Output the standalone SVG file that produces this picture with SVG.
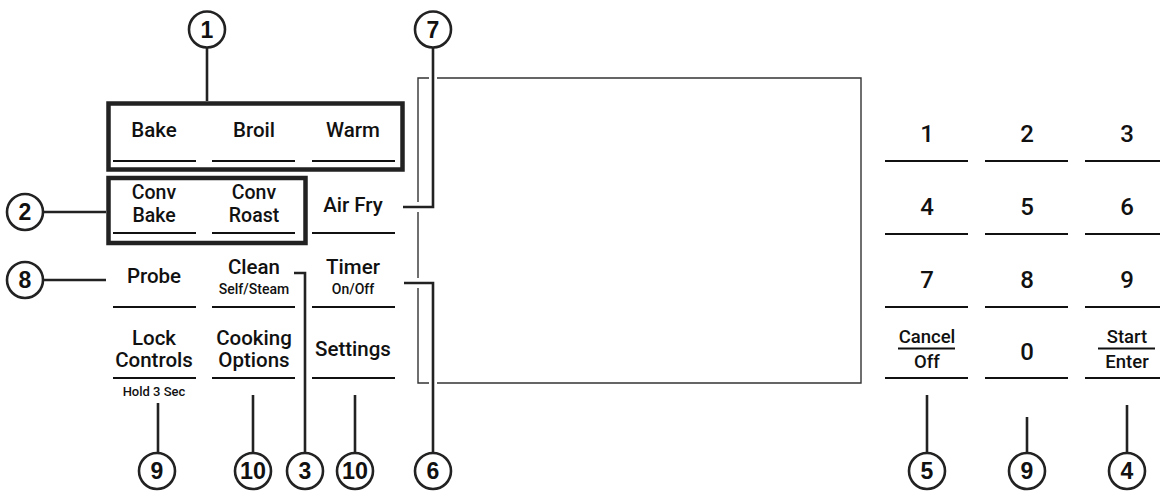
<svg xmlns="http://www.w3.org/2000/svg" width="1160" height="491" viewBox="0 0 1160 491">
<style>
.lbl{font-family:Roboto,"Liberation Sans",sans-serif;font-weight:500;font-size:20.5px;fill:#111;text-anchor:middle}
.lbl2{font-family:Roboto,"Liberation Sans",sans-serif;font-weight:500;font-size:19.5px;fill:#111;text-anchor:middle}
.sm{font-family:Roboto,"Liberation Sans",sans-serif;font-weight:500;font-size:14px;fill:#111;text-anchor:middle}
.dig{font-family:Roboto,"Liberation Sans",sans-serif;font-weight:500;font-size:24px;fill:#111;text-anchor:middle}
.key{font-family:Roboto,"Liberation Sans",sans-serif;font-weight:500;font-size:18.5px;fill:#111;text-anchor:middle}
.num{font-family:"Liberation Sans",Arial,sans-serif;font-weight:bold;font-size:23px;fill:#111;text-anchor:middle}
.ul{stroke:#111;stroke-width:2.2;fill:none}
.box{stroke:#222;stroke-width:4.5;fill:none}
.lead{stroke:#222;stroke-width:2.6;fill:none}
.thin{stroke:#333;stroke-width:1.4;fill:none}
.circ{stroke:#222;stroke-width:2.6;fill:#fff}
</style>

<g id="display">
<path class="thin" d="M429,78 H418 V202 M418,212 V278 M418,288 V383 H429 M437,383 H861 V78 H437"/>
</g>

<g id="group1-box"><rect class="box" x="108.5" y="103.5" width="294" height="66"/></g>
<g id="group2-box"><rect class="box" x="108.5" y="178" width="197" height="65"/></g>

<g id="btn-bake"><text class="lbl" x="154" y="137">Bake</text><line class="ul" x1="113" y1="161" x2="196" y2="161"/></g>
<g id="btn-broil"><text class="lbl" x="254" y="137">Broil</text><line class="ul" x1="212" y1="161" x2="295" y2="161"/></g>
<g id="btn-warm"><text class="lbl" x="353" y="137">Warm</text><line class="ul" x1="312" y1="161" x2="395" y2="161"/></g>

<g id="btn-convbake"><text class="lbl2" x="154" y="199">Conv</text><text class="lbl2" x="154" y="222">Bake</text><line class="ul" x1="113" y1="233" x2="196" y2="233"/></g>
<g id="btn-convroast"><text class="lbl2" x="254" y="199">Conv</text><text class="lbl2" x="254" y="222">Roast</text><line class="ul" x1="212" y1="233" x2="295" y2="233"/></g>
<g id="btn-airfry"><text class="lbl" x="353" y="212">Air Fry</text><line class="ul" x1="312" y1="233" x2="395" y2="233"/></g>

<g id="btn-probe"><text class="lbl" x="154" y="283">Probe</text><line class="ul" x1="113" y1="307" x2="196" y2="307"/></g>
<g id="btn-clean"><text class="lbl" x="254" y="274">Clean</text><text class="sm" x="254" y="294">Self/Steam</text><line class="ul" x1="212" y1="307" x2="295" y2="307"/></g>
<g id="btn-timer"><text class="lbl" x="353" y="274">Timer</text><text class="sm" x="353" y="294">On/Off</text><line class="ul" x1="312" y1="307" x2="395" y2="307"/></g>

<g id="btn-lock"><text class="lbl" x="154" y="345">Lock</text><text class="lbl" x="154" y="367">Controls</text><line class="ul" x1="113" y1="378" x2="196" y2="378"/><text class="sm" x="154" y="396" style="font-size:13px">Hold 3 Sec</text></g>
<g id="btn-cooking"><text class="lbl" x="254" y="345">Cooking</text><text class="lbl" x="254" y="367">Options</text><line class="ul" x1="212" y1="378" x2="295" y2="378"/></g>
<g id="btn-settings"><text class="lbl" x="353" y="356">Settings</text><line class="ul" x1="312" y1="378" x2="395" y2="378"/></g>

<g id="key-1"><text class="dig" x="927" y="142">1</text><line class="ul" x1="885" y1="161" x2="968" y2="161"/></g>
<g id="key-2"><text class="dig" x="1027" y="142">2</text><line class="ul" x1="985" y1="161" x2="1068" y2="161"/></g>
<g id="key-3"><text class="dig" x="1127" y="142">3</text><line class="ul" x1="1085" y1="161" x2="1160" y2="161"/></g>
<g id="key-4"><text class="dig" x="927" y="215">4</text><line class="ul" x1="885" y1="234" x2="968" y2="234"/></g>
<g id="key-5"><text class="dig" x="1027" y="215">5</text><line class="ul" x1="985" y1="234" x2="1068" y2="234"/></g>
<g id="key-6"><text class="dig" x="1127" y="215">6</text><line class="ul" x1="1085" y1="234" x2="1160" y2="234"/></g>
<g id="key-7"><text class="dig" x="927" y="288">7</text><line class="ul" x1="885" y1="307" x2="968" y2="307"/></g>
<g id="key-8"><text class="dig" x="1027" y="288">8</text><line class="ul" x1="985" y1="307" x2="1068" y2="307"/></g>
<g id="key-9"><text class="dig" x="1127" y="288">9</text><line class="ul" x1="1085" y1="307" x2="1160" y2="307"/></g>
<g id="key-cancel"><text class="key" x="927" y="343">Cancel</text><line class="ul" x1="898" y1="348.5" x2="955" y2="348.5"/><text class="key" x="927" y="368">Off</text><line class="ul" x1="885" y1="378" x2="968" y2="378"/></g>
<g id="key-0"><text class="dig" x="1027" y="360">0</text><line class="ul" x1="985" y1="378" x2="1068" y2="378"/></g>
<g id="key-start"><text class="key" x="1127" y="343">Start</text><line class="ul" x1="1098" y1="348.5" x2="1155" y2="348.5"/><text class="key" x="1127" y="368">Enter</text><line class="ul" x1="1085" y1="378" x2="1160" y2="378"/></g>

<g id="connectors">
<path class="lead" d="M207,48 V101"/>
<path class="lead" d="M43,212 H106"/>
<path class="lead" d="M403,207 H433 V47"/>
<path class="lead" d="M43,280 H106"/>
<path class="lead" d="M294,273 H305 V453"/>
<path class="lead" d="M404,283 H433 V452"/>
<path class="lead" d="M158,403 V453"/>
<path class="lead" d="M253,395 V453"/>
<path class="lead" d="M355,395 V453"/>
<path class="lead" d="M927,395 V452"/>
<path class="lead" d="M1027,417 V452"/>
<path class="lead" d="M1127,405 V452"/>
</g>

<g id="callout-1"><circle class="circ" cx="207" cy="29.5" r="18"/><text class="num" x="207" y="37.5">1</text></g>
<g id="callout-7"><circle class="circ" cx="433" cy="29.5" r="18"/><text class="num" x="433" y="37.5">7</text></g>
<g id="callout-2"><circle class="circ" cx="25" cy="212" r="18"/><text class="num" x="25" y="220">2</text></g>
<g id="callout-8"><circle class="circ" cx="25" cy="280" r="18"/><text class="num" x="25" y="288">8</text></g>
<g id="callout-9a"><circle class="circ" cx="157" cy="471" r="18"/><text class="num" x="157" y="479">9</text></g>
<g id="callout-10a"><circle class="circ" cx="253" cy="471" r="18"/><text class="num" x="253" y="479" textLength="26" lengthAdjust="spacingAndGlyphs">10</text></g>
<g id="callout-3"><circle class="circ" cx="305" cy="471" r="18"/><text class="num" x="305" y="479">3</text></g>
<g id="callout-10b"><circle class="circ" cx="355" cy="471" r="18"/><text class="num" x="355" y="479" textLength="26" lengthAdjust="spacingAndGlyphs">10</text></g>
<g id="callout-6"><circle class="circ" cx="433" cy="471" r="18"/><text class="num" x="433" y="479">6</text></g>
<g id="callout-5"><circle class="circ" cx="927" cy="471" r="18"/><text class="num" x="927" y="479">5</text></g>
<g id="callout-9b"><circle class="circ" cx="1027" cy="471" r="18"/><text class="num" x="1027" y="479">9</text></g>
<g id="callout-4"><circle class="circ" cx="1127" cy="471" r="18"/><text class="num" x="1127" y="479">4</text></g>
</svg>
